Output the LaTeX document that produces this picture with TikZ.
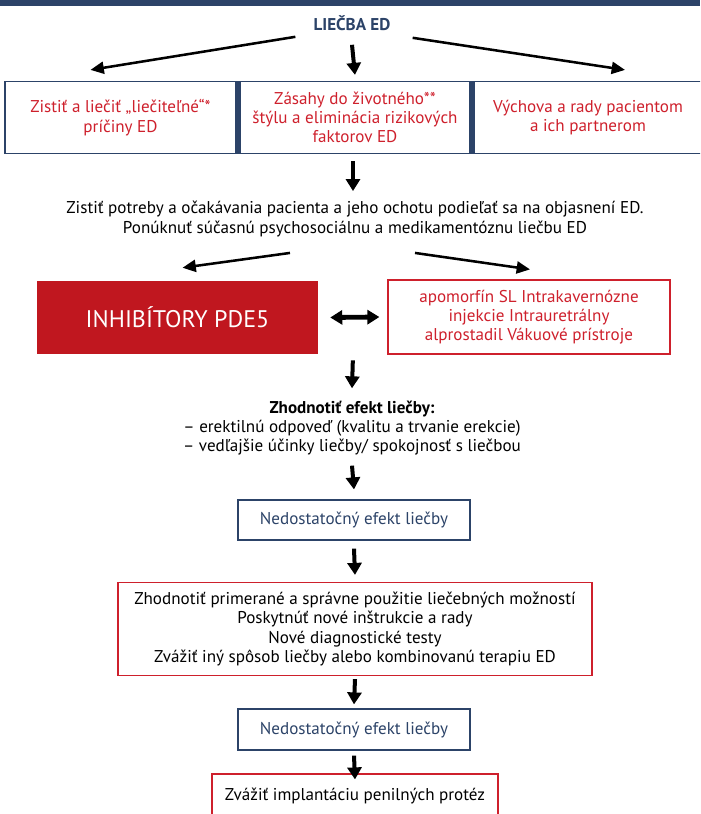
\documentclass[tikz,border=0pt]{standalone}
\usepackage{fontspec}
\setmainfont{PT Sans}
\usetikzlibrary{arrows.meta,calc}
\definecolor{edNavy}{RGB}{44,67,104}
\definecolor{edRed}{RGB}{206,32,44}
\definecolor{edFill}{RGB}{192,23,31}
\tikzset{
  txt/.style={font=\fontsize{12.8}{14.5}\selectfont, align=center, inner sep=0pt},
  navybox/.style={draw=edNavy, line width=0.9pt, txt},
  redbox/.style={draw=edRed, line width=0.9pt, txt},
  downarrow/.style={line width=3pt, -{Triangle[length=9pt,width=10.5pt]}},
  diagarrow/.style={line width=1.9pt, -{Triangle[length=10pt,width=9pt]}},
  bothway/.style={line width=3.6pt, {Triangle[length=9pt,width=10.5pt]}-{Triangle[length=9pt,width=10.5pt]}},
}
\begin{document}
\begin{tikzpicture}[x=0.75pt,y=0.75pt,yscale=-1]
\useasboundingbox (0,0) rectangle (700,814);
\clip (0,0) rectangle (700,814);

%Shape: top band
\fill[edNavy] (0,0) rectangle (700,6);

% Text Node
\node[txt, font=\fontsize{12.8}{14.5}\selectfont\bfseries, text=edNavy] (title) at (352,23) {LIEČBA ED};

%Shape: first row of boxes
\node[navybox, text=edRed, minimum width=173.25pt, minimum height=54pt] (cause) at (120.5,117.5) {Zistiť a liečiť „liečiteľné“*\\príčiny ED};
\node[navybox, text=edRed, minimum width=172.5pt, minimum height=54pt] (life) at (355,117.5) {Zásahy do životného**\\štýlu a eliminácia rizikových\\faktorov ED};
\node[navybox, text=edRed, minimum width=171pt, minimum height=54pt] (talk) at (588,117.5) {Výchova a rady pacientom\\a ich partnerom};
\fill[edNavy] (cause.north east) rectangle (life.south west);
\fill[edNavy] (life.north east) rectangle (talk.south west);

%Straight Lines
\draw[diagarrow] ($(title.south west)+(-18,6)$) -- ($(cause.north)+(-30,-11)$);
\draw[downarrow] ($(title.south)+(0,14)$) -- ($(life.north)+(0,-6)$);
\draw[diagarrow] ($(title.south east)+(22,7)$) -- ($(talk.north)+(37,-11)$);

% Text Node
\node[txt] (need) at (355,219) {Zistiť potreby a očakávania pacienta a jeho ochotu podieľať sa na objasnení ED.\\Ponúknuť súčasnú psychosociálnu a medikamentóznu liečbu ED};
\draw[downarrow] ($(life.south)+(-2,7)$) -- ($(need.north)+(-2,-10)$);

%Shape: treatment boxes
\node[txt, fill=edFill, text=white, font=\fontsize{18}{20}\selectfont, minimum width=210.75pt, minimum height=54.75pt] (pde) at (177.5,317.5) {INHIBÍTORY PDE5};
\node[redbox, text=edRed, minimum width=211.5pt, minimum height=55.5pt] (other) at (529,317) {apomorfín SL Intrakavernózne\\injekcie Intrauretrálny\\alprostadil Vákuové prístroje};
\draw[diagarrow] ($(need.south)+(-65,16)$) -- ($(pde.north)+(5,-13)$);
\draw[diagarrow] ($(need.south)+(60,16)$) -- ($(other.north)+(1,-10)$);
\draw[bothway] ($(pde.east)+(12,0)$) -- ($(other.west)+(-8,0)$);

% Text Node
\node[txt] (evaluate) at (352,428) {\textbf{Zhodnotiť efekt liečby:}\\– erektilnú odpoveď (kvalitu a trvanie erekcie)\\– vedľajšie účinky liečby/ spokojnosť s liečbou};
\draw[downarrow] ($(pde.south east)!0.5!(other.south west)+(0,6)$) -- ($(evaluate.north)+(0,-12)$);

%Shape: follow-up boxes
\node[navybox, text=edNavy, minimum width=174pt, minimum height=30pt] (fail1) at (354,520) {Nedostatočný efekt liečby};
\node[redbox, minimum width=355.5pt, minimum height=69.75pt] (check) at (355,629) {Zhodnotiť primerané a správne použitie liečebných možností\\Poskytnúť nové inštrukcie a rady\\Nové diagnostické testy\\Zvážiť iný spôsob liečby alebo kombinovanú terapiu ED};
\node[navybox, text=edNavy, minimum width=174pt, minimum height=30.75pt] (fail2) at (354,729.5) {Nedostatočný efekt liečby};
\node[redbox, minimum width=214.5pt, minimum height=33pt] (implant) at (355,796) {Zvážiť implantáciu penilných protéz};

\draw[downarrow] ($(evaluate.south)+(0,10)$) -- ($(fail1.north)+(0,-10)$);
\draw[downarrow] ($(fail1.south)+(0,8)$) -- ($(check.north)+(0,-7)$);
\draw[downarrow] ($(check.south)+(0,3)$) -- ($(fail2.north)+(0,-4)$);
\draw[downarrow] ($(fail2.south)+(0,5)$) -- ($(implant.north)+(0,6)$);

\end{tikzpicture}
\end{document}
